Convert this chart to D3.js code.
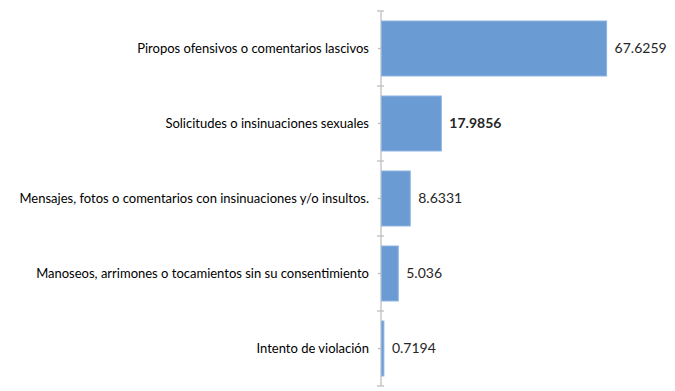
<!DOCTYPE html>
<html>
<head>
<meta charset="utf-8">
<script src="https://cdn.jsdelivr.net/npm/d3@7"></script>
<style>
  body { margin: 0; background: #fff; }
  text { font-family: Lato, "Open Sans", sans-serif; fill: #000; }
</style>
</head>
<body>
<svg id="chart" width="675" height="391"></svg>
<script>
var categories = [
  "Piropos ofensivos o comentarios lascivos",
  "Solicitudes o insinuaciones sexuales",
  "Mensajes, fotos o comentarios con insinuaciones y/o insultos.",
  "Manoseos, arrimones o tocamientos sin su consentimiento",
  "Intento de violación"
];
var values = [67.6259, 17.9856, 8.6331, 5.036, 0.7194];
var valueLabels = ["67.6259", "17.9856", "8.6331", "5.036", "0.7194"];

var svg = d3.select("#chart");
var x0 = 381;

var x = d3.scaleLinear().domain([0, 70]).range([x0, x0 + 233]);
var y = d3.scaleBand().domain(categories).range([11, 386]).paddingInner(0.267).paddingOuter(0.1335);

// axis line + ticks
var axis = svg.append("g").attr("transform", "translate(" + x0 + ",0)");
axis.append("line")
  .attr("y1", 11).attr("y2", 386)
  .attr("stroke", "#bfbfbf").attr("stroke-width", 1.3);
var bounds = categories.map(function(c) { return y(c) - y.step() * y.paddingInner() / 2; });
bounds.push(386);
axis.selectAll(".tick").data(bounds).enter().append("line")
  .attr("x1", -4).attr("x2", 3)
  .attr("y1", function(d) { return d; }).attr("y2", function(d) { return d; })
  .attr("stroke", "#bfbfbf").attr("stroke-width", 1.3);
axis.selectAll(".mtick").data(categories).enter().append("line")
  .attr("x1", -3).attr("x2", 0)
  .attr("y1", function(d) { return y(d) + y.bandwidth() / 2; })
  .attr("y2", function(d) { return y(d) + y.bandwidth() / 2; })
  .attr("stroke", "#bfbfbf").attr("stroke-width", 1.3);

// bars
svg.selectAll(".bar").data(values).enter().append("rect")
  .attr("x", x(0) + 0.5)
  .attr("y", function(d, i) { return y(categories[i]); })
  .attr("width", function(d) { return x(d) - x(0); })
  .attr("height", y.bandwidth())
  .attr("fill", "#6a9bd3")
  .attr("stroke", "#8fb4e2")
  .attr("stroke-width", 1);

// category labels
svg.selectAll(".cat").data(categories).enter().append("text")
  .attr("x", x0 - 12)
  .attr("y", function(d) { return y(d) + y.bandwidth() / 2; })
  .attr("dy", "0.35em")
  .attr("text-anchor", "end")
  .style("font-size", "13px")
  .text(function(d) { return d; });

// value labels
svg.selectAll(".val").data(values).enter().append("text")
  .attr("x", function(d) { return x(d) + 8.5; })
  .attr("y", function(d, i) { return y(categories[i]) + y.bandwidth() / 2; })
  .attr("dy", "0.35em")
  .style("font-size", "14px")
  .style("font-weight", function(d, i) { return i == 1 ? "bold" : "normal"; })
  .style("fill", "#262626")
  .text(function(d, i) { return valueLabels[i]; });
</script>
</body>
</html>
